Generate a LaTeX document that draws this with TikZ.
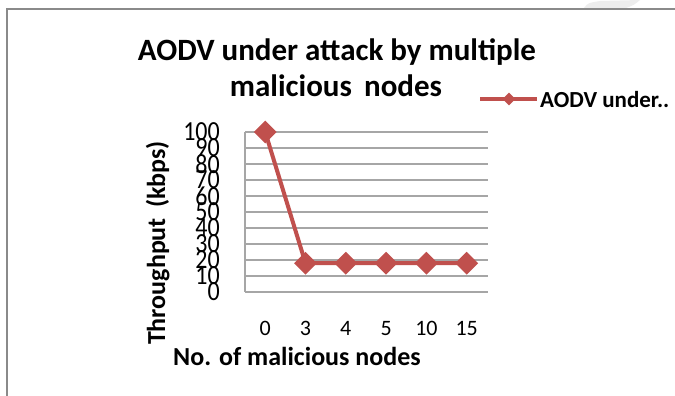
\documentclass[tikz,border=0pt]{standalone}
\usepackage{fontspec}
\setmainfont{Carlito}
\usetikzlibrary{shapes.geometric}

\definecolor{seriesred}{HTML}{C0504D}
\definecolor{gridgray}{HTML}{A6A6A6}
\definecolor{framegray}{HTML}{8A8A8A}
\definecolor{faintgray}{HTML}{EDEDED}

\tikzset{
  gridline/.style={draw=gridgray, line width=1.5pt},
  frameline/.style={draw=framegray, line width=2.5pt},
  series/.style={draw=seriesred, line width=4pt, line join=round},
  marker/.style={diamond, fill=seriesred, inner sep=0pt, minimum width=23pt, minimum height=23pt},
  legmarker/.style={diamond, fill=seriesred, inner sep=0pt, minimum width=13pt, minimum height=13pt},
  yticklab/.style={anchor=east, inner sep=0pt, font=\fontsize{24}{24}\selectfont},
  xticklab/.style={anchor=base, inner sep=0pt, font=\fontsize{22}{22}\selectfont},
  titletext/.style={anchor=base, inner sep=0pt, font=\bfseries\fontsize{31}{31}\selectfont},
  axistitle/.style={anchor=base, inner sep=0pt, font=\bfseries\fontsize{26}{26}\selectfont},
  legtext/.style={anchor=base west, inner sep=0pt, font=\bfseries\fontsize{23}{23}\selectfont},
}

\begin{document}
\begin{tikzpicture}[x=1pt, y=-1pt]
  \useasboundingbox (0,0) rectangle (675,396);
  \fill[white] (0,0) rectangle (675,396);

  % faint mark above the frame
  \fill[faintgray] (584,8) .. controls (588,3) .. (600,1) -- (640,0) .. controls (634,5) .. (626,8) -- cycle;

  % chart frame (top and left edges)
  \draw[frameline] (675,9) -- (7,9) -- (7,396);

  % horizontal gridlines, value 0 at y=292, 16 units per 10
  \foreach \v in {0,10,...,100} {
    \draw[gridline] (245,{292-1.6*\v}) -- (488,{292-1.6*\v});
  }
  % value axis line
  \draw[gridline] (245,132) -- (245,292);

  % y tick labels (tall, tightly stacked digits)
  \foreach \v in {0,10,...,100} {
    \node[yticklab] (yl\v) at (220,{292-1.6*\v}) {\scalebox{1}[1.15]{\v}};
  }

  % x tick labels
  \foreach \lab [count=\i from 0] in {0,3,4,5,10,15} {
    \node[xticklab] (xl\i) at ({265.2+40.3*\i},335) {\lab};
  }

  % data points
  \coordinate (p0) at (265.2,132);
  \coordinate (p1) at (305.5,263.2);
  \coordinate (p2) at (345.8,263.2);
  \coordinate (p3) at (386.1,263.2);
  \coordinate (p4) at (426.4,263.2);
  \coordinate (p5) at (466.7,263.2);

  \draw[series] (p0) -- (p1) -- (p2) -- (p3) -- (p4) -- (p5);
  \foreach \i in {0,...,5} {
    \node[marker] (m\i) at (p\i) {};
  }

  % chart title
  \node[titletext] (title1) at (337,61) {AODV under attack by multiple};
  \node[titletext] (title2) at (336,96) {malicious\, nodes};

  % axis titles
  \node[axistitle] (xtitle) at (297,365) {No. of malicious nodes};
  \node[axistitle, rotate=90] (ytitle) at (165,243) {Throughput\, (kbps)};

  % legend
  \coordinate (lgA) at (480,99);
  \coordinate (lgB) at (537,99);
  \draw[series] (lgA) -- (lgB);
  \node[legmarker] (lgm) at (509,99) {};
  \node[legtext] (lgtext) at (540,107) {AODV under..};
\end{tikzpicture}
\end{document}
